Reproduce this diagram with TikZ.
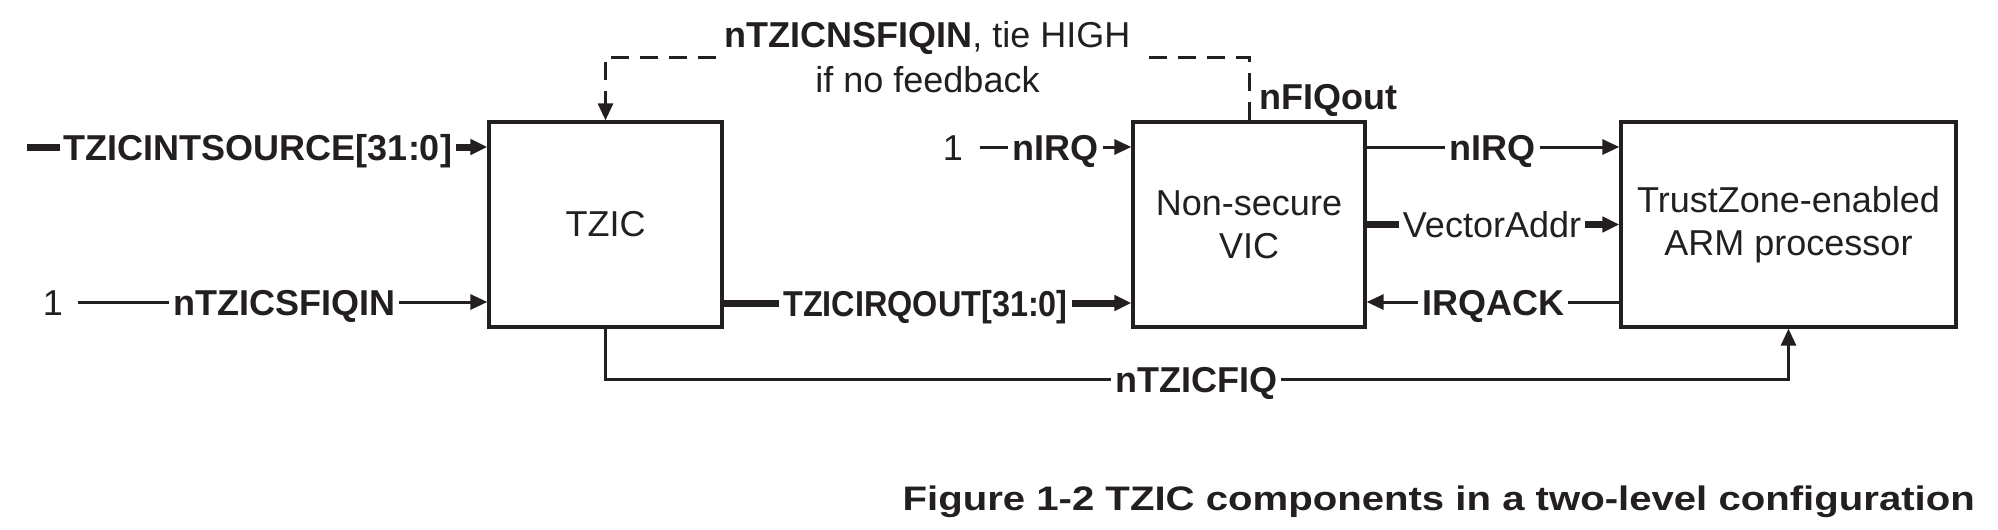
\documentclass[tikz,border=0pt]{standalone}
\usepackage{fontspec}
\setmainfont{Liberation Sans}
\usetikzlibrary{arrows.meta, positioning, calc}

\begin{document}
\begin{tikzpicture}[x=1pt, y=-1pt,
  bloco/.style={draw, line width=3.3pt, minimum width=#1, minimum height=205pt, inner sep=0pt, align=center, font=\fontsize{36}{43}\selectfont},
  texto/.style={inner sep=4pt, text height=26pt, text depth=0pt, font=\fontsize{36}{45}\selectfont},
  rotulo/.style={texto, font=\fontsize{36}{45}\selectfont\bfseries},
  fio/.style={line width=3pt},
  barramento/.style={line width=7pt},
  tracejado/.style={dash pattern=on 18pt off 11pt},
  seta/.style={-{Triangle[length=17pt, width=15pt]}}]
% --- DIAGRAMA TZIC EM DOIS NIVEIS ---
\definecolor{tinta}{HTML}{231F20}
\color{tinta}
\useasboundingbox (0,0) rectangle (1998,530);

% LAYER 1: Blocos
\node[bloco=233pt] (tzic) at (605.5,224.5) {TZIC};
\node[bloco=232pt] (vic) at (1249,224.5) {Non-secure\\VIC};
\node[bloco=335pt] (arm) at (1788.5,224.5) {TrustZone-enabled\\ARM processor};

% LAYER 2: Entradas do TZIC
\coordinate (srcIni) at (27,147);
\node[rotulo] (lblSrc) at (258,147) {TZICINTSOURCE[31:0]};
\draw[barramento] (srcIni) -- (lblSrc.west);
\draw[barramento, seta] (lblSrc.east) -- (tzic.west |- lblSrc.east);

\node[texto] (um1) at (53,302) {1};
\coordinate (sfiqIni) at (78,302);
\node[rotulo] (lblSfiq) at (284,302) {nTZICSFIQIN};
\draw[fio] (sfiqIni) -- (lblSfiq.west);
\draw[fio, seta] (lblSfiq.east) -- (tzic.west |- lblSfiq.east);

% LAYER 3: TZIC -> VIC
\node[rotulo] (lblIrqOut) at (925.5,303) {\scalebox{0.9}[1]{TZICIRQOUT[31:0]}};
\draw[barramento] (tzic.east |- lblIrqOut.west) -- (lblIrqOut.west);
\draw[barramento, seta] (lblIrqOut.east) -- (vic.west |- lblIrqOut.east);

\node[texto] (um2) at (953,147) {1};
\coordinate (irqIni) at (980,147);
\node[rotulo] (lblIrqIn) at (1055.5,147) {nIRQ};
\draw[fio] (irqIni) -- (lblIrqIn.west);
\draw[fio, seta] (lblIrqIn.east) -- (vic.west |- lblIrqIn.east);

% LAYER 4: VIC <-> processador
\node[rotulo] (lblIrq) at (1492.5,147) {nIRQ};
\draw[fio] (vic.east |- lblIrq.west) -- (lblIrq.west);
\draw[fio, seta] (lblIrq.east) -- (arm.west |- lblIrq.east);

\node[texto] (lblVec) at (1492,224.5) {VectorAddr};
\draw[barramento] (vic.east |- lblVec.west) -- (lblVec.west);
\draw[barramento, seta] (lblVec.east) -- (arm.west |- lblVec.east);

\node[rotulo] (lblAck) at (1493,302) {IRQACK};
\draw[fio] (arm.west |- lblAck.east) -- (lblAck.east);
\draw[fio, seta] (lblAck.west) -- (vic.east |- lblAck.west);

% LAYER 5: FIQ do TZIC e realimentacao
\node[rotulo] (lblFiq) at (1196,379) {nTZICFIQ};
\draw[fio] (tzic.south) |- (lblFiq.west);
\draw[fio, seta] (lblFiq.east) -| (arm.south);

\node[inner xsep=8pt, inner ysep=0pt, align=center, font=\fontsize{36}{45}\selectfont] (lblNs) at (927.5,57) {\textbf{nTZICNSFIQIN}, tie HIGH\\if no feedback};
\draw[fio, tracejado, seta] (lblNs.west) -| (tzic.north);
\draw[fio, tracejado] (vic.north) |- (lblNs.east);
\node[rotulo] (lblNfiq) at (1328,96) {nFIQout};

% LAYER 6: Legenda
\node[anchor=base east, inner sep=0pt, font=\fontsize{34}{40}\selectfont\bfseries] (legenda) at (1975,510) {\scalebox{1.18}[1]{Figure 1-2 TZIC components in a two-level configuration}};
\end{tikzpicture}
\end{document}
